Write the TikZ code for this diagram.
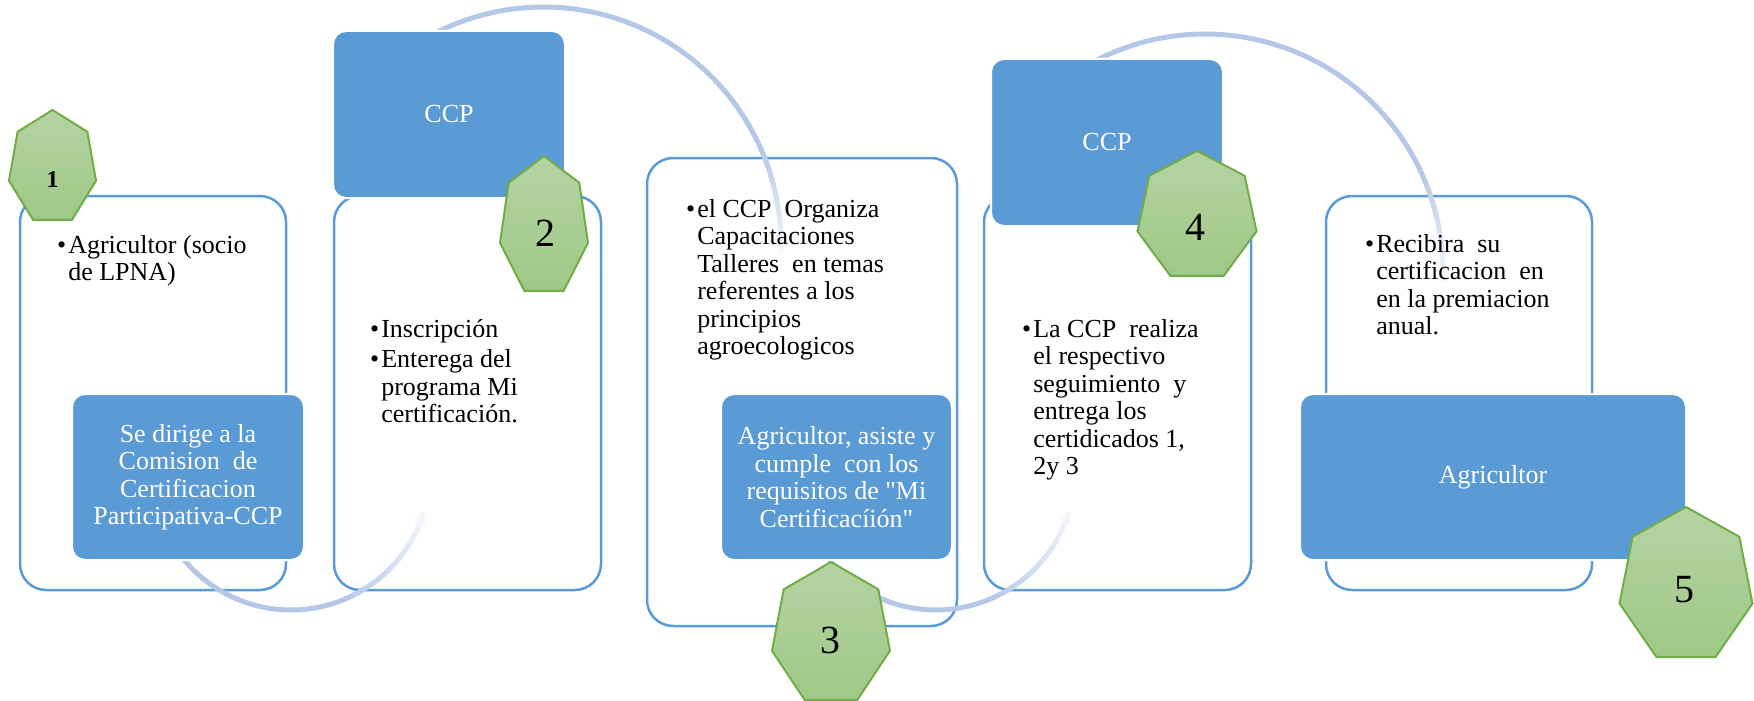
\documentclass[tikz,border=0pt]{standalone}
\usepackage{fontspec}
\setmainfont{Liberation Serif}[Ligatures=TeXOff]
\usetikzlibrary{arrows.meta}
\definecolor{boxblue}{HTML}{5B9BD5}
\definecolor{arcblue}{HTML}{B4C7E7}
\definecolor{arcend}{HTML}{F3F6FB}
\definecolor{heptline}{HTML}{70AD47}
\definecolor{hepttop}{HTML}{B4D4A3}
\definecolor{heptbot}{HTML}{9FC886}
\newcommand\diagfont{\fontsize{26}{27.5}\selectfont}
\tikzset{
  outerbox/.style={draw=boxblue, line width=2.5pt, fill=white, rounded corners=26pt, inner sep=0pt},
  bluebox/.style={draw=white, line width=2pt, fill=boxblue, rounded corners=13pt, inner sep=0pt,
    text=white, align=center, font=\diagfont},
  bodytext/.style={inner sep=0pt, anchor=base west, font=\diagfont},
  numtext/.style={inner sep=0pt, font=\fontsize{40}{40}\selectfont},
  heptshape/.style={draw=heptline, line width=2pt, top color=hepttop, bottom color=heptbot, line join=miter},
  arcline/.style={line width=5pt, draw=arcblue, line cap=butt},
}
% cx, top, width, height
\newcommand\heptagon[4]{%
  \pgfmathsetmacro\hsx{#3/1.94986}%
  \pgfmathsetmacro\hsy{#4/1.90097}%
  \pgfmathsetmacro\hcy{#2+\hsy}%
  \path[heptshape] ({#1},{#2}) \foreach \k in {1,...,6} { -- ({#1+\hsx*cos(90+\k*360/7)},{\hcy-\hsy*sin(90+\k*360/7)}) } -- cycle;
}
% cx, cy, r, start angle, fade angle, end angle
\newcommand\fadearc[6]{%
  \draw[arcline] plot[domain=0:1, samples=50, smooth] ({#1+#3*cos(#4+(#5-#4)*\x)},{#2-#3*sin(#4+(#5-#4)*\x)});
  \foreach \i in {0,...,23}{%
    \pgfmathsetmacro\ta{#5+(#6-#5)*\i/24}%
    \pgfmathsetmacro\tb{#5+(#6-#5)*(\i+1.3)/24}%
    \pgfmathtruncatemacro\pc{100-100*\i/23}%
    \draw[arcline, draw=arcblue!\pc!arcend] plot[domain=0:1, samples=6] ({#1+#3*cos(\ta+(\tb-\ta)*\x)},{#2-#3*sin(\ta+(\tb-\ta)*\x)});
  }
  \pgfmathsetmacro\tp{#6-(#6-#5)*0.05}%
  \draw[line width=3pt, draw=arcend, -{Triangle[length=9pt,width=12pt]}] ({#1+#3*cos(\tp)},{#2-#3*sin(\tp)}) -- ({#1+#3*cos(#6)},{#2-#3*sin(#6)});
}
\begin{document}
\begin{tikzpicture}[x=1pt,y=-1pt]
\useasboundingbox (0,0) rectangle (1754,701);
% outer white boxes
\node[outerbox, minimum width=266pt, minimum height=394pt] (w1) at (153,393) {};
\node[outerbox, minimum width=267pt, minimum height=394pt] (w2) at (467.5,393) {};
\node[outerbox, minimum width=310pt, minimum height=468pt] (w3) at (802,392) {};
\node[outerbox, minimum width=267pt, minimum height=394pt] (w4) at (1117.5,393) {};
\node[outerbox, minimum width=266pt, minimum height=394pt] (w5) at (1459,393) {};
% arcs
\fadearc{291}{471}{139}{-145}{-70}{-18}
\fadearc{543.5}{244.5}{237.5}{125}{25}{-2}
\fadearc{936}{471}{139}{-145}{-70}{-18}
\fadearc{1205}{272}{238}{125}{25}{-2}
% blue boxes
\node[bluebox, minimum width=232pt, minimum height=166pt] (b1) at (188,477)
  {Se dirige a la\\Comision\ \ de\\Certificacion\\Participativa-CCP};
\node[bluebox, minimum width=232pt, minimum height=167pt] (b2) at (449,114.5) {CCP};
\node[bluebox, minimum width=231pt, minimum height=166pt] (b3) at (836.5,477)
  {Agricultor, asiste y\\cumple\ \ con los\\requisitos de "Mi\\Certificacíión"};
\node[bluebox, minimum width=232pt, minimum height=167pt] (b4) at (1107,142.5) {CCP};
\node[bluebox, minimum width=386pt, minimum height=166pt] (b5) at (1493,477) {Agricultor};
% heptagons
\heptagon{52.5}{110}{87}{110}
\heptagon{544}{156}{88}{135}
\heptagon{831}{562}{118}{138}
\heptagon{1197}{151}{119}{125}
\heptagon{1686}{507}{133}{150}
% numbers
\node[inner sep=0pt, font=\fontsize{24}{24}\selectfont\bfseries] (n1) at (52.5,179.5) {1};
\node[numtext] (n2) at (545,233) {2};
\node[numtext] (n3) at (830,640) {3};
\node[numtext] (n4) at (1195,227) {4};
\node[numtext] (n5) at (1684,590) {5};
% bullet texts
\node[bodytext] (t1) at (57,253) {\begin{tabular}[t]{@{}l@{\hspace{2pt}}l@{}}•&Agricultor (socio\\&de LPNA)\end{tabular}};
\node[bodytext] (t2) at (370,337) {\begin{tabular}[t]{@{}l@{\hspace{2pt}}l@{}}•&Inscripción\\[3pt]•&Enterega del\\&programa Mi\\&certificación.\end{tabular}};
\node[bodytext] (t3) at (686,217) {\begin{tabular}[t]{@{}l@{\hspace{2pt}}l@{}}•&el CCP\ \ Organiza\\&Capacitaciones\\&Talleres\ \ en temas\\&referentes a los\\&principios\\&agroecologicos\end{tabular}};
\node[bodytext] (t4) at (1022,337) {\begin{tabular}[t]{@{}l@{\hspace{2pt}}l@{}}•&La CCP\ \ realiza\\&el respectivo\\&seguimiento\ \ y\\&entrega los\\&certidicados 1,\\&2y 3\end{tabular}};
\node[bodytext] (t5) at (1365,252) {\begin{tabular}[t]{@{}l@{\hspace{2pt}}l@{}}•&Recibira\ \ su\\&certificacion\ \ en\\&en la premiacion\\&anual.\end{tabular}};
\end{tikzpicture}
\end{document}
